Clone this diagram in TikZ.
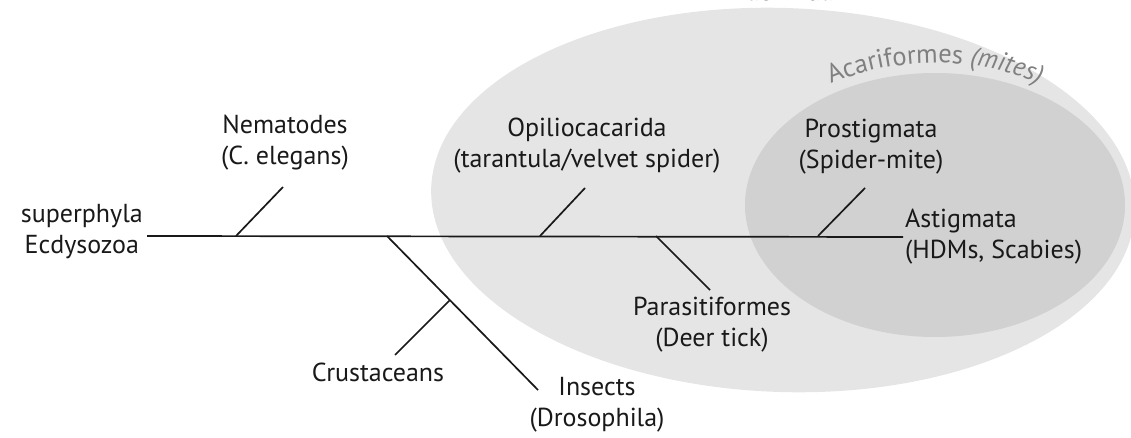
\documentclass[tikz,border=0pt]{standalone}
\usepackage{fontspec}
\setmainfont{PT Sans}
\usetikzlibrary{decorations.text}

\newcommand{\acafont}{\fontsize{26.5}{30}\selectfont\color{black!50}}

\begin{document}
\begin{tikzpicture}[x=1pt, y=1pt,
    taxon/.style={font=\fontsize{26}{31}\selectfont, text=black!90, align=center, inner sep=2pt},
    branch/.style={line width=1.7pt, black!90}]
    \useasboundingbox (0,0) rectangle (1131,437);
    \clip (0,0) rectangle (1131,437);

    % Groups
    \fill[black!10, rotate around={-2:(783,237)}] (783,237) ellipse (352 and 192);
    \fill[black!18] (935,232) ellipse (190 and 132);
    \node[taxon, anchor=base] (arach) at (778,436) {Arachnida};
    \path[decorate, decoration={text along path, text align=center,
        text={|\acafont|Acariformes |\acafont\itshape|(mites)}}]
        (761.8,303) arc[start angle=150, end angle=30, x radius=200, y radius=142];

    % Branch points
    \coordinate (start) at (147,201);
    \coordinate (nemroot) at (236,201);
    \coordinate (insroot) at (387,201);
    \coordinate (opiroot) at (540,201);
    \coordinate (parroot) at (656,201);
    \coordinate (proroot) at (818,201);
    \coordinate (fork) at (450,137);

    % Branch tips
    \coordinate (nemtip) at (283,250);
    \coordinate (opitip) at (585,249);
    \coordinate (protip) at (865,249);
    \coordinate (partip) at (710,147);
    \coordinate (instip) at (538,47);
    \coordinate (crutip) at (395,82);

    % Labels
    \node[taxon, anchor=east] (ecdy) at (145,205) {superphyla\\Ecdysozoa};
    \node[taxon] (nem) at (285,294) {Nematodes\\(C. elegans)};
    \node[taxon] (opi) at (587,291) {Opiliocacarida\\(tarantula/velvet spider)};
    \node[taxon] (pro) at (871,290) {Prostigmata\\(Spider-mite)};
    \node[taxon, anchor=west, align=left] (ast) at (903,200) {Astigmata\\(HDMs, Scabies)};
    \node[taxon] (par) at (712,112) {Parasitiformes\\(Deer tick)};
    \node[taxon] (cru) at (378,65) {Crustaceans};
    \node[taxon] (ins) at (597,32) {Insects\\(Drosophila)};

    % Tree
    \draw[branch] (start) -- (ast.west);
    \draw[branch] (nemroot) -- (nemtip);
    \draw[branch] (opiroot) -- (opitip);
    \draw[branch] (proroot) -- (protip);
    \draw[branch] (parroot) -- (partip);
    \draw[branch] (insroot) -- (instip);
    \draw[branch] (fork) -- (crutip);
\end{tikzpicture}
\end{document}
